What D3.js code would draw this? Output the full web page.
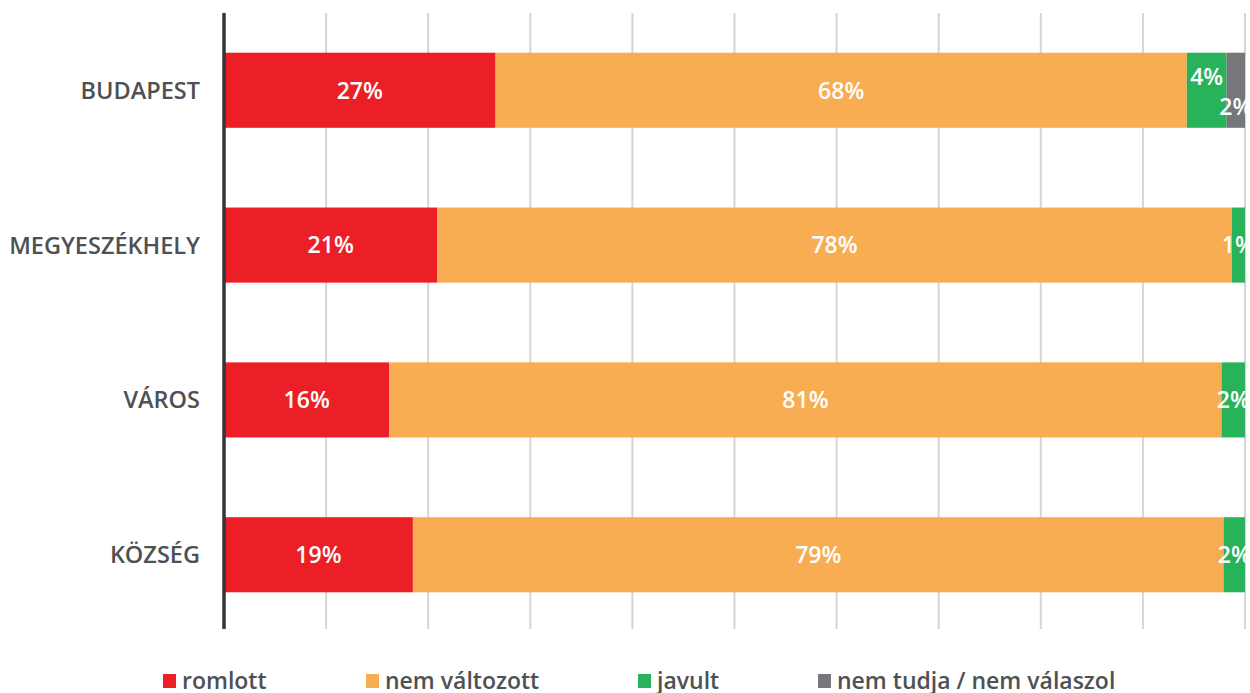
<!DOCTYPE html>
<html><head><meta charset="utf-8">
<script src="https://cdn.jsdelivr.net/npm/d3@7/dist/d3.min.js"></script>
<style>
html,body{margin:0;padding:0;background:#fff;}
svg{display:block;}
text{font-family:"Open Sans","Noto Sans",sans-serif;}
</style></head>
<body>
<script>
const categories = ["BUDAPEST","MEGYESZÉKHELY","VÁROS","KÖZSÉG"];
const seriesNames = ["romlott","nem változott","javult","nem tudja / nem válaszol"];
const romlott      = [26.6, 20.9, 16.2, 18.5];
const nemValtozott = [67.7, 77.8, 81.5, 79.4];
const javult       = [3.9, 1.3, 2.3, 2.1];
const nemTudja     = [1.8, 0, 0, 0];
const labels = [
  ["27%","68%","4%","2%"],
  ["21%","78%","1%",""],
  ["16%","81%","2%",""],
  ["19%","79%","2%",""]
];
const xTicks = [10,20,30,40,50,60,70,80,90,100];
const colors = ["#ed1f26","#f8ad53","#28b35a","#76777a"];

const W=1250,H=693;
const svg=d3.select("body").append("svg").attr("width",W).attr("height",H);
const x=d3.scaleLinear().domain([0,100]).range([224,1245]);
const y=d3.scaleBand().domain(categories).range([14,631]).paddingInner(0.515).paddingOuter(0.25);

svg.append("defs").append("clipPath").attr("id","plot")
  .append("rect").attr("x",224).attr("y",0).attr("width",1246-224).attr("height",H);

// gridlines
svg.append("g").selectAll("line").data(xTicks).join("line")
  .attr("x1",d=>x(d)).attr("x2",d=>x(d)).attr("y1",13).attr("y2",629)
  .attr("stroke","#d5d5d5").attr("stroke-width",2);

const seriesVals=[romlott,nemValtozott,javult,nemTudja];
const rows=categories.map((c,i)=>{
  let acc=0;
  return seriesVals.map((s,k)=>{const v=s[i];const seg={cat:c,k,x0:acc,x1:acc+v,label:labels[i][k]};acc+=v;return seg;});
});
const segs=rows.flat().filter(d=>d.x1>d.x0);

const g=svg.append("g");
g.selectAll("rect").data(segs).join("rect")
  .attr("x",d=>x(d.x0)).attr("width",d=>x(d.x1)-x(d.x0))
  .attr("y",d=>y(d.cat)).attr("height",y.bandwidth())
  .attr("fill",d=>colors[d.k]);

// labels with stagger for consecutive small segments
const lg=svg.append("g").attr("clip-path","url(#plot)");
rows.forEach(row=>{
  const vis=row.filter(d=>d.x1>d.x0);
  vis.forEach((d,j)=>{
    let dy=0;
    const small=v=>v && (v.x1-v.x0)<5;
    if(small(d)){
      if(small(vis[j+1])) dy=-13.5;
      else if(small(vis[j-1])) dy=16.5;
    }
    lg.append("text")
      .attr("x",(x(d.x0)+x(d.x1))/2)
      .attr("y",y(d.cat)+y.bandwidth()/2+dy)
      .attr("dy","0.36em")
      .attr("text-anchor","middle")
      .attr("fill","#fff").attr("font-size",23).attr("font-weight",600)
      .text(d.label);
  });
});

// axis line
svg.append("line").attr("x1",224).attr("x2",224).attr("y1",13).attr("y2",629)
  .attr("stroke","#333538").attr("stroke-width",3.5);

// category labels
svg.append("g").selectAll("text").data(categories).join("text")
  .attr("x",200).attr("y",d=>y(d)+y.bandwidth()/2).attr("dy","0.36em")
  .attr("text-anchor","end").attr("fill","#4d5154")
  .attr("font-size",23.5).attr("font-weight",600).text(d=>d);

// legend
const legX=[163,366,638,818];
const leg=svg.append("g").selectAll("g").data(seriesNames).join("g")
  .attr("transform",(d,i)=>`translate(${legX[i]},681)`);
leg.append("rect").attr("x",0).attr("y",-7).attr("width",13).attr("height",14)
  .attr("fill",(d,i)=>colors[i]);
leg.append("text").attr("x",19).attr("y",0).attr("dy","0.34em")
  .attr("fill","#4d5154").attr("font-size",23).attr("font-weight",600).text(d=>d);
</script>
</body></html>
